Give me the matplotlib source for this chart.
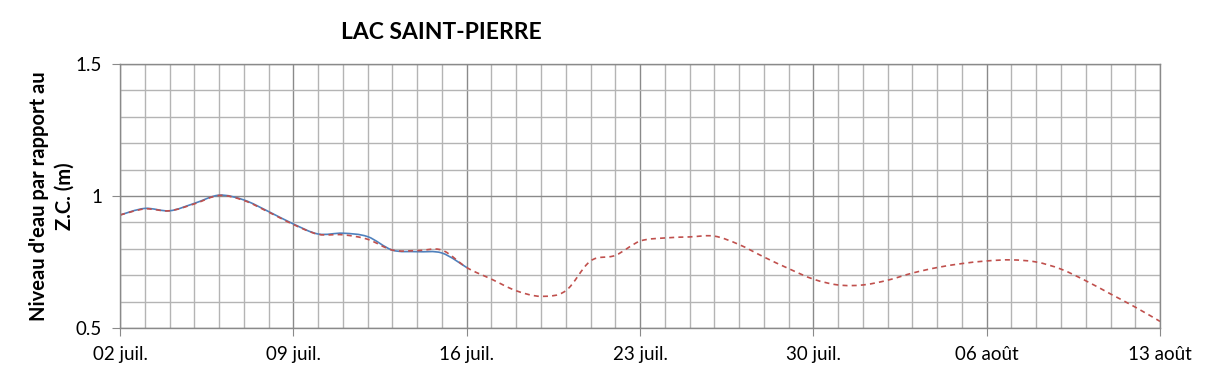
import matplotlib
matplotlib.use('Agg')
import matplotlib.pyplot as plt
from matplotlib.path import Path
from matplotlib.patches import PathPatch
from matplotlib.ticker import MultipleLocator
import numpy as np

# days since 02 juil.
obs_days = list(range(0, 15))
obs_level = [0.928, 0.953, 0.944, 0.972, 1.003, 0.985, 0.941, 0.894, 0.856,
             0.859, 0.846, 0.795, 0.789, 0.784, 0.729]

prev_days = list(range(0, 43))
prev_level = [0.928, 0.951, 0.944, 0.970, 1.002, 0.983, 0.939, 0.892, 0.855,
              0.853, 0.836, 0.795, 0.793, 0.795, 0.729, 0.685, 0.641, 0.620,
              0.641, 0.754, 0.775, 0.829, 0.841, 0.845, 0.848, 0.816, 0.769,
              0.725, 0.685, 0.663, 0.663, 0.681, 0.708, 0.729, 0.744, 0.754,
              0.758, 0.750, 0.723, 0.679, 0.629, 0.579, 0.525]

tick_days = [0, 7, 14, 21, 28, 35, 42]
tick_labels = ['02 juil.', '09 juil.', '16 juil.', '23 juil.', '30 juil.',
               '06 août', '13 août']

plt.rcParams['font.family'] = ['Lato', 'DejaVu Sans']


def smooth_path(x, y, t=1/6):
    # Excel-style smoothed line as cubic Bezier segments
    x = np.asarray(x, float)
    y = np.asarray(y, float)
    verts = [(x[0], y[0])]
    codes = [Path.MOVETO]
    n = len(x)
    for i in range(n - 1):
        p0 = (x[max(i - 1, 0)], y[max(i - 1, 0)])
        p1 = (x[i], y[i])
        p2 = (x[i + 1], y[i + 1])
        p3 = (x[min(i + 2, n - 1)], y[min(i + 2, n - 1)])
        c1 = (p1[0] + (p2[0] - p0[0]) * t, p1[1] + (p2[1] - p0[1]) * t)
        c2 = (p2[0] - (p3[0] - p1[0]) * t, p2[1] - (p3[1] - p1[1]) * t)
        verts += [c1, c2, p2]
        codes += [Path.CURVE4] * 3
    return Path(verts, codes)


fig = plt.figure(figsize=(12.09, 3.78), dpi=100)
ax = fig.add_axes([0.0993, 0.1323, 0.8602, 0.6984])

ax.set_xlim(0, 42)
ax.set_ylim(0.5, 1.5)

ax.xaxis.set_major_locator(MultipleLocator(7))
ax.xaxis.set_minor_locator(MultipleLocator(1))
ax.yaxis.set_major_locator(MultipleLocator(0.5))
ax.yaxis.set_minor_locator(MultipleLocator(0.1))
ax.grid(which='minor', color='#b4b4b4', linewidth=1.0)
ax.grid(which='major', color='#8a8a8a', linewidth=1.0)
ax.set_axisbelow(True)

ax.set_xticks(tick_days)
ax.set_xticklabels(tick_labels)
ax.set_yticks([0.5, 1.0, 1.5])
ax.set_yticklabels(['0.5', '1', '1.5'])
ax.tick_params(axis='both', which='major', length=6, color='#8a8a8a',
               labelsize=13.5, pad=7)
ax.tick_params(axis='both', which='minor', length=0)

for s in ax.spines.values():
    s.set_color('#8a8a8a')
    s.set_linewidth(1.0)

ax.add_patch(PathPatch(smooth_path(obs_days, obs_level), fill=False,
                       edgecolor='#4f81bd', linewidth=1.2))
ax.add_patch(PathPatch(smooth_path(prev_days, prev_level), fill=False,
                       edgecolor='#c0504d', linewidth=1.2,
                       linestyle=(0, (3, 2.5))))

ax.set_ylabel("Niveau d'eau par rapport au\nZ.C. (m)", fontsize=14.5,
              fontweight='bold', labelpad=1, linespacing=1.35)
fig.text(0.365, 0.915, 'LAC SAINT-PIERRE', fontsize=16.5, fontweight='bold',
         ha='center', va='center')

fig.savefig('out.png', dpi=100)
